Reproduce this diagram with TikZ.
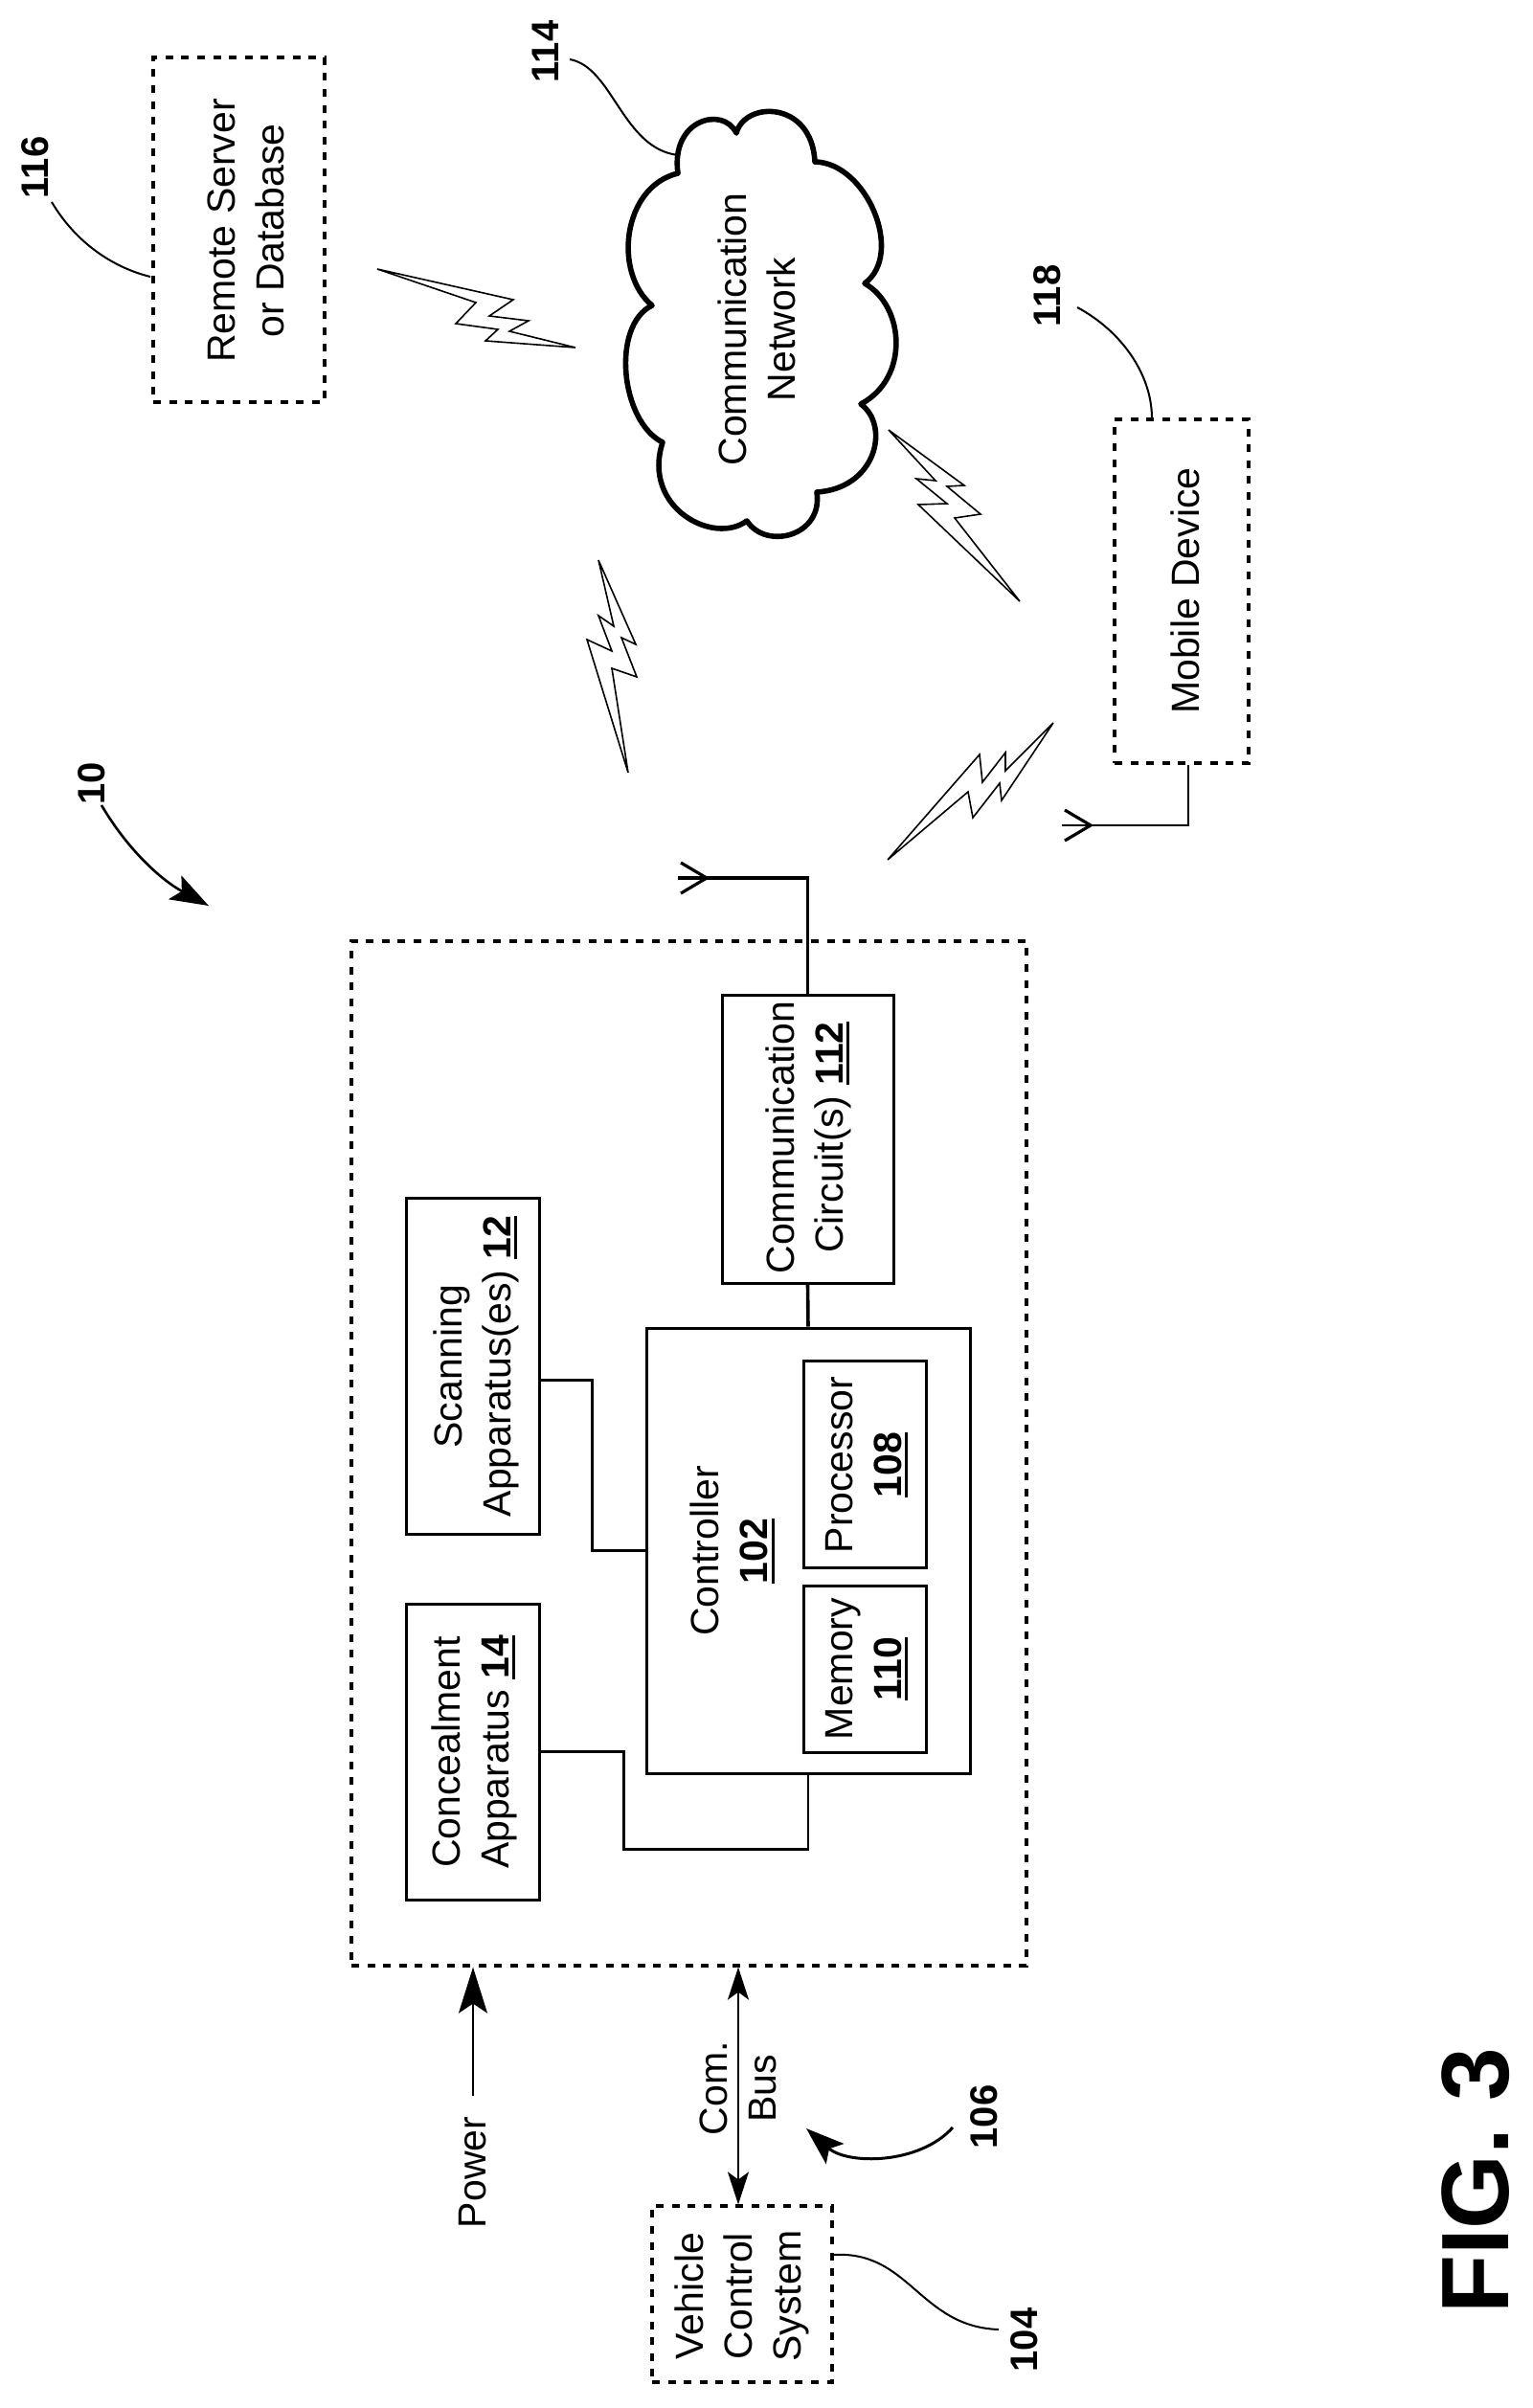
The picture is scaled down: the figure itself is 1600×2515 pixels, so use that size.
\documentclass[tikz,border=0pt]{standalone}
\usepackage{fontspec}
\setmainfont{Liberation Sans}
\usetikzlibrary{arrows.meta}

\newcommand{\labfont}{\fontsize{20.5}{25.5}\selectfont}
\newcommand{\reffont}{\fontsize{20}{24}\selectfont\bfseries}
\newcommand{\unum}[1]{\setbox0\hbox{\bfseries #1}\rlap{\rule[-3.5pt]{\wd0}{1.4pt}}\box0}
\tikzset{
	box/.style={draw,line width=1.5pt,inner sep=0pt},
	dashbox/.style={draw,line width=1.6pt,dash pattern=on 4pt off 4.3pt,inner sep=0pt},
	lab/.style={rotate=90,font=\labfont,align=center,inner sep=0pt},
	ref/.style={rotate=90,font=\reffont,inner sep=0pt},
	wire/.style={line width=1.1pt},
	lead/.style={line width=1pt},
	bolt/.style={line width=.8pt,line join=miter}
}

\begin{document}
\begin{tikzpicture}[x=.5pt,y=-.5pt]
	\useasboundingbox (0,0) rectangle (1600,2515);

	% dashed boxes
	\node[dashbox,minimum width=352.5pt,minimum height=535pt] (module) at (719.5,1518) {};
	\node[dashbox,minimum width=89.5pt,minimum height=180pt] (server) at (249.5,240) {};
	\node[dashbox,minimum width=70pt,minimum height=179.5pt] (mobile) at (1234,617.5) {};
	\node[dashbox,minimum width=94pt,minimum height=92pt] (vehicle) at (775,2396) {};

	% solid boxes
	\node[box,minimum width=89.5pt,minimum height=150.5pt] (comm) at (843.5,1189.5) {};
	\node[box,minimum width=169pt,minimum height=232.5pt] (ctrl) at (844,1619.5) {};
	\node[box,minimum width=64pt,minimum height=108pt] (proc) at (903,1529) {};
	\node[box,minimum width=64pt,minimum height=87pt] (mem) at (903,1743) {};
	\node[box,minimum width=69.5pt,minimum height=175.5pt] (scan) at (493.5,1426.5) {};
	\node[box,minimum width=69.5pt,minimum height=154.5pt] (conceal) at (493.5,1829.5) {};

	% box labels
	\node[lab] (serverlab) at (257,241) {Remote Server\\or Database};
	\node[lab] (mobilelab) at (1238,617) {Mobile Device};
	\node[lab] (vehiclelab) at (775,2398) {Vehicle\\Control\\System};
	\node[lab] (commlab) at (844,1188) {Communication\\Circuit(s) \unum{112}};
	\node[lab] (ctrllab) at (765,1620) {Controller\\\unum{102}};
	\node[lab] (proclab) at (905,1530) {Processor\\\unum{108}};
	\node[lab] (memlab) at (905,1743) {Memory\\\unum{110}};
	\node[lab] (scanlab) at (497,1427) {Scanning\\Apparatus(es) \unum{12}};
	\node[lab] (conceallab) at (495,1830) {Concealment\\Apparatus \unum{14}};
	\node[lab] (power) at (494,2269) {Power};
	\node[lab] (bus) at (771,2181) {Com.\\Bus};

	% cloud
	\draw[line width=2.8pt,line join=round] (708,181)
		.. controls (700,125) and (755,110) .. (769,139)
		.. controls (778,105) and (848,105) .. (851,169)
		.. controls (905,170) and (945,265) .. (903,296)
		.. controls (945,320) and (950,395) .. (899,422)
		.. controls (930,445) and (915,510) .. (853,514)
		.. controls (860,560) and (800,575) .. (780,544)
		.. controls (745,570) and (670,530) .. (692,462)
		.. controls (648,440) and (638,340) .. (681,319)
		.. controls (640,285) and (650,195) .. (708,181) -- cycle;
	\node[lab] (cloudlab) at (790,344) {Communication\\Network};

	% wires
	\draw[wire] ([yshift=-7.5pt]scan.east) -- ++(54,0) |- (ctrl.west);
	\draw[wire] (conceal.east) -- ++(87,0) -- ++(0,102) -| (ctrl.south);
	\draw[line width=1.8pt] (ctrl.north) -- (comm.south);

	% antennas
	\coordinate (ant1) at (708,917);
	\coordinate (ant2) at (1109,862);
	\draw[line width=1.6pt] (comm.north) |- (ant1);
	\draw[line width=1.2pt] ([xshift=3.5pt]mobile.south) |- (ant2);
	\foreach \a in {ant1,ant2}{
		\draw[line width=1.6pt] (\a) ++(3,-16) -- ++(27,16) -- ++(-27,16);
	}

	% bolts
	\draw[bolt] (394,281) -- (536,313) -- (511,330) -- (552,335) -- (532,346) -- (601,363) -- (507,356) -- (520,344) -- (476,338) -- (497,316) -- cycle;
	\draw[bolt] (625,585) -- (664,673) -- (649,666) -- (665,707) -- (639,698) -- (656,807) -- (613,668) -- (639,680) -- (625,643) -- (641,654) -- cycle;
	\draw[bolt] (928,449) -- (1007,507) -- (989,508) -- (1024,537) -- (997,541) -- (1065,628) -- (959,527) -- (989,526) -- (957,500) -- (977,502) -- cycle;
	\draw[bolt] (1100,755) -- (1046,836) -- (1044,818) -- (1016,854) -- (1011,827) -- (927,898) -- (1023,788) -- (1026,817) -- (1050,786) -- (1050,805) -- cycle;

	% power and bus
	\draw[line width=1pt,-{Stealth[length=24pt,width=15pt,inset=5pt]}] ([yshift=11pt]power.east) -- (power.east |- module.south);
	\draw[line width=1pt,{Stealth[length=17pt,width=11pt,inset=4pt]}-{Stealth[length=17pt,width=11pt,inset=4pt]}] (bus.center |- module.south) -- (bus.center |- vehicle.north);

	% reference numbers
	\node[ref] (r116) at (37,175) {116};
	\node[ref] (r114) at (570,54) {114};
	\node[ref] (r118) at (1094,309) {118};
	\node[ref] (r10) at (96,818) {10};
	\node[ref] (r106) at (1028,2211) {106};
	\node[ref] (r104) at (1070,2444) {104};
	\node[rotate=90,font=\fontsize{50}{60}\selectfont\bfseries,inner sep=0pt] (fig) at (1541,2278) {FIG. 3};

	% leads
	\coordinate (l116) at (54,211);
	\coordinate (s116) at (157,289);
	\coordinate (l114) at (595,62);
	\coordinate (c114) at (708,162);
	\coordinate (l118) at (1125,321);
	\coordinate (m118) at (1203,437);
	\coordinate (l104) at (1043,2433);
	\coordinate (v104) at (870,2355);
	\draw[lead] (l116) .. controls (80,255) and (120,280) .. (s116);
	\draw[lead] (l114) .. controls (640,70) and (650,155) .. (c114);
	\draw[lead] (l118) .. controls (1170,345) and (1203,390) .. (m118);
	\draw[lead] (v104) .. controls (950,2350) and (960,2430) .. (l104);

	% curved arrows
	\coordinate (a10) at (106,841);
	\coordinate (t10) at (218,946);
	\coordinate (a106) at (995,2222);
	\coordinate (t106) at (842,2223);
	\draw[line width=1.3pt,-{Stealth[length=20pt,width=14pt,inset=4pt]}] (a10) .. controls (135,890) and (170,920) .. (t10);
	\draw[line width=1.5pt,-{Stealth[length=20pt,width=14pt,inset=4pt]}] (a106) .. controls (960,2261) and (885,2261) .. (t106);
\end{tikzpicture}
\end{document}
